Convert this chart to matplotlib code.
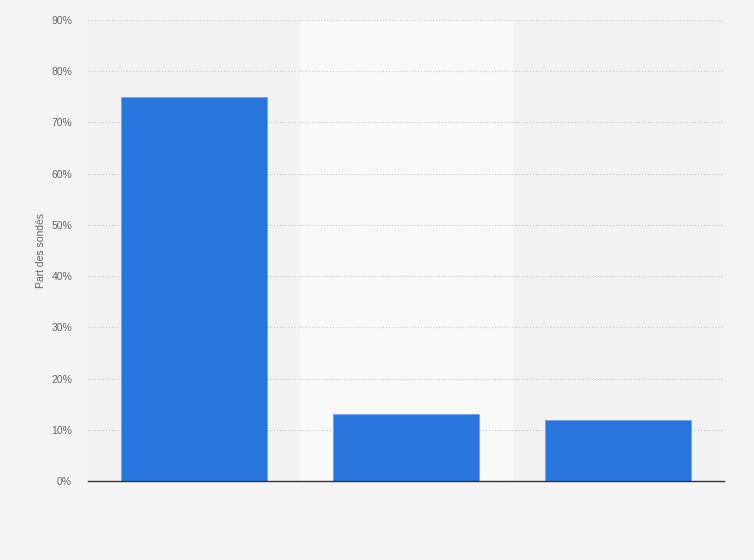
import numpy as np
import matplotlib.pyplot as plt

categories = ['A', 'B', 'C']
values = [75, 13, 12]
yticks = [0, 10, 20, 30, 40, 50, 60, 70, 80, 90]

plt.rcParams['font.family'] = ['Liberation Sans', 'DejaVu Sans']

fig = plt.figure(figsize=(7.54, 5.60), dpi=100, facecolor='#f4f4f4')
ax = fig.add_axes([88/754, 1-481/560, (724-88)/754, (481-20)/560])
ax.set_facecolor('#f3f3f3')

x = np.arange(len(categories))
# bande plus claire pour la catégorie du milieu
ax.axvspan(0.5, 1.5, color='#f8f8f8', zorder=0)

ax.bar(x, values, width=0.69, color='#2876dd', edgecolor='#6fa3ea', linewidth=0.6, zorder=3)

ax.set_xlim(-0.5, 2.5)
ax.set_ylim(0, 90)
ax.set_yticks(yticks)
ax.set_yticklabels([f'{t}%' for t in yticks], fontsize=7.5, color='#666666')
ax.set_xticks([])
ax.tick_params(axis='y', length=0, pad=11.5)

ax.grid(axis='y', color='#cfcfcf', linestyle=':', linewidth=0.8, zorder=1)
for s in ['top', 'right', 'left']:
    ax.spines[s].set_visible(False)
ax.spines['bottom'].set_color('#333333')
ax.spines['bottom'].set_linewidth(1.0)
ax.spines['bottom'].set_zorder(4)

ax.set_ylabel('Part des sondés', fontsize=7.5, color='#666666', labelpad=4)

fig.savefig('out.png', dpi=100, facecolor=fig.get_facecolor())
